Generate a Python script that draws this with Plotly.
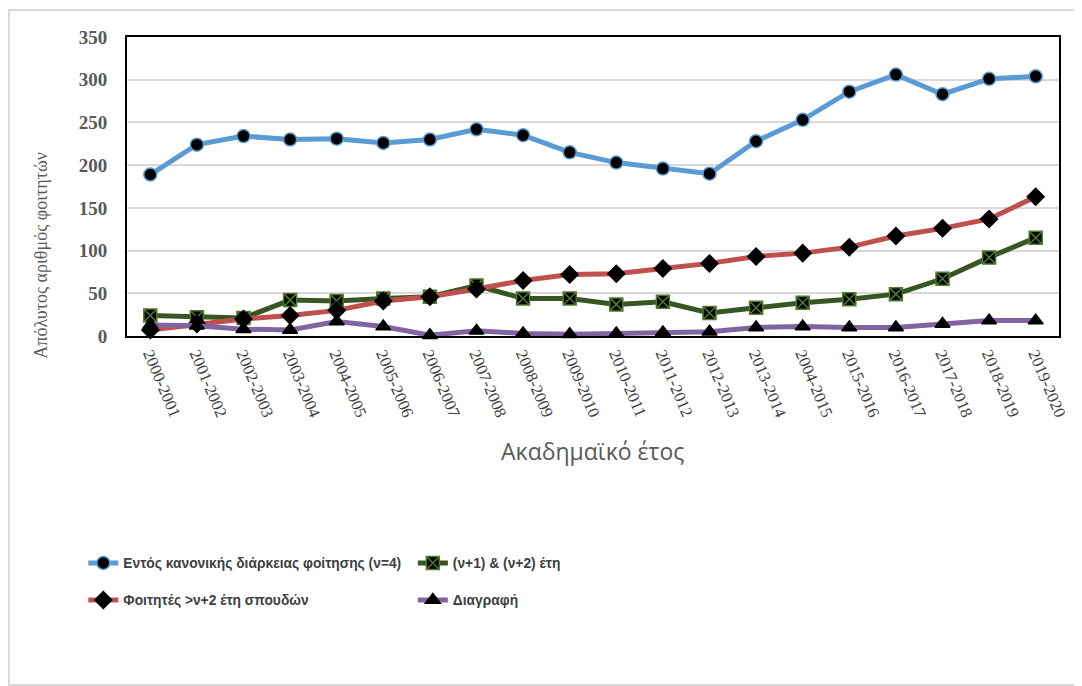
import plotly.graph_objects as go

years = ['2000-2001', '2001-2002', '2002-2003', '2003-2004', '2004-2005',
         '2005-2006', '2006-2007', '2007-2008', '2008-2009', '2009-2010',
         '2010-2011', '2011-2012', '2012-2013', '2013-2014', '2004-2015',
         '2015-2016', '2016-2017', '2017-2018', '2018-2019', '2019-2020']

entos = [189, 224, 234, 230, 231, 226, 230, 242, 235, 215,
         203, 196, 190, 228, 253, 286, 306, 283, 301, 304]
v12 = [24, 22, 21, 42, 41, 44, 46, 59, 44, 44,
       37, 40, 27, 33, 39, 43, 49, 67, 92, 115]
foitites = [7, 14, 20, 24, 30, 41, 46, 55, 65, 72,
            73, 79, 85, 93, 97, 104, 117, 126, 137, 163]
diagrafi = [13, 12, 8, 7, 17, 11, 1, 6, 3, 2,
            3, 4, 5, 10, 11, 10, 10, 14, 18, 18]

names = ['Εντός κανονικής διάρκειας φοίτησης (ν=4)', '(ν+1) & (ν+2) έτη',
         'Φοιτητές >ν+2 έτη σπουδών', 'Διαγραφή']

# page body has an 8px margin, so the figure is drawn 8px smaller/shifted
OFF = 8
W, H = 1082 - OFF, 686 - OFF
L, R, T, B = 127 - OFF, 1066 - OFF, 37 - OFF, 336 - OFF
pw, ph = R - L, B - T


def px(x):
    return (x - OFF - L) / pw


def py(y):
    return (B - (y - OFF)) / ph


fig = go.Figure()

series = [
    (entos, names[0], '#5b9bd5', 'circle', '#5b9bd5', 13, 'legend'),
    (v12, names[1], '#375623', 'square-x', '#4e7a2a', 13, 'legend2'),
    (foitites, names[2], '#c0504d', 'diamond', '#000000', 13, 'legend3'),
    (diagrafi, names[3], '#8064a2', 'triangle-up', '#000000', 13, 'legend4'),
]
for vals, nm, col, sym, mlc, ms, lg in series:
    fig.add_trace(go.Scatter(
        x=years, y=vals, name=nm, mode='lines+markers', legend=lg,
        line=dict(color=col, width=5),
        marker=dict(symbol=sym, size=ms, color='black',
                    line=dict(color=mlc, width=1.5)),
        cliponaxis=False))

legfont = dict(family='Liberation Sans, Arial, sans-serif',
               size=13.8, color='#404040', weight='bold')
leg_pos = {'legend': (83, 563), 'legend2': (415, 563),
           'legend3': (83, 600), 'legend4': (415, 600)}
leg_layout = {}
for k, (lx, ly) in leg_pos.items():
    leg_layout[k] = dict(x=px(lx), y=py(ly), xanchor='left', yanchor='middle',
                         font=legfont, bgcolor='rgba(0,0,0,0)', borderwidth=0)

fig.update_layout(
    width=W, height=H, showlegend=True,
    margin=dict(l=L, r=W - R, t=T, b=H - B),
    paper_bgcolor='white', plot_bgcolor='white',
    xaxis=dict(type='category', range=[-0.5, 19.5], showgrid=False,
               showline=True, linecolor='black', linewidth=2, mirror=True,
               tickangle=67, ticks='',
               tickfont=dict(family='Liberation Serif, serif', size=16.5, color='#404040')),
    yaxis=dict(range=[0, 350], dtick=50, showgrid=True, gridcolor='#d9d9d9',
               gridwidth=1.5, zeroline=False,
               showline=True, linecolor='black', linewidth=2, mirror=True,
               ticks='', ticklabelstandoff=14,
               tickfont=dict(family='Liberation Serif, serif', size=19,
                             color='#595959', weight='bold')),
    annotations=[
        dict(text='Ακαδημαϊκό έτος', xref='paper', yref='paper',
             x=px(596), y=py(451), xanchor='center', yanchor='middle',
             showarrow=False,
             font=dict(family='Open Sans, sans-serif', size=23, color='#595959')),
        dict(text='Απόλυτος αριθμός φοιτητών', xref='paper', yref='paper',
             x=px(40), y=py(255), xanchor='center', yanchor='middle',
             showarrow=False, textangle=-90,
             font=dict(family='Liberation Serif, serif', size=18, color='#595959')),
    ],
    shapes=[dict(type='rect', xref='paper', yref='paper',
                 x0=px(8), x1=px(1095), y0=py(685), y1=py(10),
                 line=dict(color='#d9d9d9', width=2), layer='below')],
    **leg_layout,
)

fig.write_html('out.html')
